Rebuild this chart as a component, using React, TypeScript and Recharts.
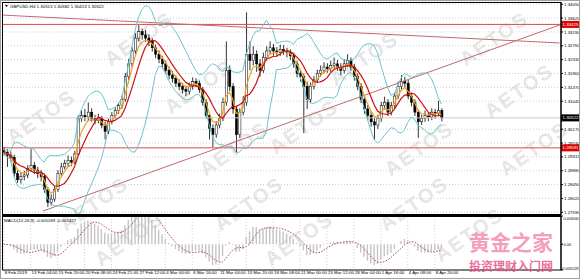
import React from 'react';
import { ComposedChart, Bar, Line, XAxis, YAxis, CartesianGrid, ReferenceLine } from 'recharts';

// GBPUSD H4, each candle here = 2 bars
const timeLabels = [
  '8 Feb 2019', '13 Feb 04:00', '15 Feb 20:00', '20 Feb 08:00', '24 Feb 21:00', '27 Feb 12:00',
  '4 Mar 00:00', '6 Mar 16:00', '11 Mar 04:00', '13 Mar 20:00', '18 Mar 08:00', '21 Mar 00:00',
  '25 Mar 12:00', '28 Mar 04:00', '1 Apr 16:00', '4 Apr 08:00', '8 Apr 20:00',
];
const priceTicks = [
  1.3405, 1.3362, 1.3319, 1.3276, 1.3233, 1.319, 1.3147, 1.3104,
  1.3017, 1.2974, 1.2931, 1.2888, 1.2845, 1.2802, 1.2759,
];
const macdTicks = [0.006063, 0, -0.005529];
const macdTickLabels = ['0.006063', '0.00', '-0.005529'];

const opens = [
  1.2950, 1.2945, 1.2935, 1.2930, 1.2880, 1.2860, 1.2870, 1.2875, 1.2895, 1.2905,
  1.2890, 1.2880, 1.2870, 1.2830, 1.2790, 1.2800, 1.2830, 1.2880, 1.2900, 1.2910,
  1.2920, 1.2915, 1.2940, 1.3050, 1.3060, 1.3055, 1.3070, 1.3050, 1.3045, 1.3050,
  1.3030, 1.3010, 1.3040, 1.3060, 1.3075, 1.3090, 1.3110, 1.3180, 1.3220, 1.3260,
  1.3300, 1.3320, 1.3310, 1.3300, 1.3290, 1.3270, 1.3250, 1.3235, 1.3220, 1.3200,
  1.3185, 1.3175, 1.3160, 1.3150, 1.3140, 1.3135, 1.3150, 1.3165, 1.3160, 1.3140,
  1.3100, 1.3060, 1.3020, 1.3000, 1.3030, 1.3050, 1.3100, 1.3200, 1.3150, 1.3080,
  1.3000, 1.3070, 1.3100, 1.3250, 1.3230, 1.3250, 1.3220, 1.3200, 1.3240, 1.3260,
  1.3270, 1.3260, 1.3255, 1.3265, 1.3260, 1.3255, 1.3245, 1.3220, 1.3190, 1.3180,
  1.3150, 1.3110, 1.3150, 1.3170, 1.3190, 1.3200, 1.3210, 1.3205, 1.3215, 1.3220,
  1.3210, 1.3200, 1.3220, 1.3230, 1.3210, 1.3180, 1.3150, 1.3110, 1.3080, 1.3060,
  1.3040, 1.3030, 1.3050, 1.3090, 1.3100, 1.3070, 1.3090, 1.3120, 1.3150, 1.3165,
  1.3160, 1.3120, 1.3100, 1.3070, 1.3040, 1.3050, 1.3060, 1.3055, 1.3070, 1.3065,
  1.3075,
];
const highs = [
  1.2962, 1.2955, 1.2948, 1.2938, 1.2890, 1.2882, 1.2888, 1.2905, 1.2955, 1.2915,
  1.2900, 1.2890, 1.2878, 1.2838, 1.2815, 1.2840, 1.2890, 1.2912, 1.2922, 1.2935,
  1.2932, 1.2950, 1.3060, 1.3075, 1.3080, 1.3100, 1.3082, 1.3062, 1.3065, 1.3058,
  1.3040, 1.3050, 1.3070, 1.3085, 1.3100, 1.3122, 1.3192, 1.3235, 1.3272, 1.3315,
  1.3340, 1.3330, 1.3325, 1.3312, 1.3300, 1.3280, 1.3262, 1.3245, 1.3230, 1.3212,
  1.3198, 1.3185, 1.3172, 1.3160, 1.3152, 1.3162, 1.3178, 1.3175, 1.3168, 1.3148,
  1.3110, 1.3068, 1.3032, 1.3042, 1.3065, 1.3115, 1.3290, 1.3215, 1.3160, 1.3090,
  1.3082, 1.3120, 1.3380, 1.3290, 1.3275, 1.3262, 1.3235, 1.3255, 1.3275, 1.3290,
  1.3282, 1.3272, 1.3280, 1.3278, 1.3270, 1.3265, 1.3255, 1.3230, 1.3200, 1.3190,
  1.3165, 1.3162, 1.3182, 1.3202, 1.3215, 1.3225, 1.3222, 1.3230, 1.3240, 1.3232,
  1.3222, 1.3235, 1.3250, 1.3240, 1.3220, 1.3190, 1.3160, 1.3120, 1.3092, 1.3072,
  1.3052, 1.3062, 1.3102, 1.3118, 1.3110, 1.3102, 1.3132, 1.3165, 1.3185, 1.3180,
  1.3170, 1.3130, 1.3110, 1.3078, 1.3062, 1.3075, 1.3070, 1.3082, 1.3080, 1.3105,
  1.3082,
];
const lows = [
  1.2935, 1.2900, 1.2915, 1.2870, 1.2850, 1.2848, 1.2858, 1.2865, 1.2885, 1.2878,
  1.2865, 1.2855, 1.2820, 1.2775, 1.2780, 1.2792, 1.2822, 1.2872, 1.2892, 1.2900,
  1.2902, 1.2908, 1.2935, 1.3040, 1.3042, 1.3045, 1.3040, 1.3032, 1.3035, 1.3020,
  1.2985, 1.3002, 1.3032, 1.3050, 1.3065, 1.3080, 1.3102, 1.3170, 1.3210, 1.3250,
  1.3290, 1.3295, 1.3288, 1.3275, 1.3258, 1.3238, 1.3222, 1.3205, 1.3188, 1.3172,
  1.3162, 1.3148, 1.3138, 1.3128, 1.3120, 1.3125, 1.3140, 1.3148, 1.3130, 1.3090,
  1.3050, 1.2985, 1.2960, 1.2990, 1.3020, 1.3042, 1.3090, 1.3135, 1.3065, 1.2945,
  1.2990, 1.3060, 1.3090, 1.3200, 1.3215, 1.3195, 1.3180, 1.3192, 1.3230, 1.3250,
  1.3245, 1.3242, 1.3245, 1.3248, 1.3240, 1.3232, 1.3208, 1.3178, 1.3165, 1.3005,
  1.3080, 1.3100, 1.3140, 1.3160, 1.3180, 1.3190, 1.3192, 1.3195, 1.3205, 1.3198,
  1.3185, 1.3190, 1.3210, 1.3198, 1.3168, 1.3138, 1.3098, 1.3065, 1.3045, 1.3025,
  1.2985, 1.3018, 1.3040, 1.3078, 1.3058, 1.3060, 1.3080, 1.3110, 1.3140, 1.3145,
  1.3110, 1.3088, 1.3058, 1.2990, 1.3030, 1.3040, 1.3042, 1.3045, 1.3050, 1.3058,
  1.3041,
];
const closes = [
  1.2945, 1.2935, 1.2930, 1.2880, 1.2860, 1.2870, 1.2875, 1.2895, 1.2905, 1.2890,
  1.2880, 1.2870, 1.2830, 1.2790, 1.2800, 1.2830, 1.2880, 1.2900, 1.2910, 1.2920,
  1.2915, 1.2940, 1.3050, 1.3060, 1.3055, 1.3070, 1.3050, 1.3045, 1.3050, 1.3030,
  1.3010, 1.3040, 1.3060, 1.3075, 1.3090, 1.3110, 1.3180, 1.3220, 1.3260, 1.3300,
  1.3320, 1.3310, 1.3300, 1.3290, 1.3270, 1.3250, 1.3235, 1.3220, 1.3200, 1.3185,
  1.3175, 1.3160, 1.3150, 1.3140, 1.3135, 1.3150, 1.3165, 1.3160, 1.3140, 1.3100,
  1.3060, 1.3020, 1.3000, 1.3030, 1.3050, 1.3100, 1.3200, 1.3150, 1.3080, 1.3000,
  1.3070, 1.3100, 1.3250, 1.3230, 1.3250, 1.3220, 1.3200, 1.3240, 1.3260, 1.3270,
  1.3260, 1.3255, 1.3265, 1.3260, 1.3255, 1.3245, 1.3220, 1.3190, 1.3180, 1.3150,
  1.3110, 1.3150, 1.3170, 1.3190, 1.3200, 1.3210, 1.3205, 1.3215, 1.3220, 1.3210,
  1.3200, 1.3220, 1.3230, 1.3210, 1.3180, 1.3150, 1.3110, 1.3080, 1.3060, 1.3040,
  1.3030, 1.3050, 1.3090, 1.3100, 1.3070, 1.3090, 1.3120, 1.3150, 1.3165, 1.3160,
  1.3120, 1.3100, 1.3070, 1.3040, 1.3050, 1.3060, 1.3055, 1.3070, 1.3065, 1.3075,
  1.3052,
];

const levelUpper = 1.33425;
const levelLower = 1.29591;
const lastPrice = 1.30522;
const SLOTS = 166;
const xTicks = timeLabels.map((_, k) => k * 8);
const FONT = 'Liberation Sans, Arial, sans-serif';

function sma(arr: number[], i: number, p: number) {
  const s = Math.max(0, i - p + 1);
  let sum = 0;
  for (let k = s; k <= i; k++) sum += arr[k];
  return sum / (i - s + 1);
}
function ema(arr: number[], p: number) {
  const a = 2 / (p + 1);
  const out: number[] = [];
  arr.forEach((v, i) => out.push(i === 0 ? v : a * v + (1 - a) * out[i - 1]));
  return out;
}

const fast = ema(closes, 4);
const ema6 = ema(closes, 6);
const ema13 = ema(closes, 13);
const macdLine = ema6.map((v, i) => v - ema13[i]);

const rows = Array.from({ length: SLOTS }, (_, i) => {
  if (i >= closes.length) return { i };
  const mid = sma(closes, i, 10);
  const s = Math.max(0, i - 9);
  let v = 0;
  for (let k = s; k <= i; k++) v += (closes[k] - mid) ** 2;
  const sd = Math.sqrt(v / (i - s + 1));
  return {
    i,
    range: [lows[i], highs[i]],
    open: opens[i], high: highs[i], low: lows[i], close: closes[i],
    bbUp: mid + 2 * sd,
    bbDn: mid - 2 * sd,
    maFast: fast[i],
    maSlow: sma(closes, i, 7),
    macd: macdLine[i],
    signal: sma(macdLine, i, 5),
  };
});

const Candle = (props: any) => {
  const { x, y, width, height, payload } = props;
  if (!payload || payload.high == null) return null;
  const top = Math.min(y, y + height);
  const h = Math.abs(height);
  const { open, close, high, low } = payload;
  const span = high - low || 1e-9;
  const py = (p: number) => top + ((high - p) / span) * h;
  const cx = x + width / 2;
  const b1 = py(Math.max(open, close));
  const b2 = py(Math.min(open, close));
  const bull = close >= open;
  return (
    <g>
      <line x1={cx} x2={cx} y1={top} y2={top + h} stroke="#000" strokeWidth={0.8} />
      <rect x={x} y={b1} width={width} height={Math.max(b2 - b1, 0.6)} fill={bull ? '#fff' : '#000'} stroke="#000" strokeWidth={0.5} />
    </g>
  );
};

const PriceTick = (props: any) => {
  const { x, y, payload } = props;
  return (
    <text x={x} y={y} dy="0.35em" fontSize={4.4} fontFamily={FONT} fill="#000" textAnchor="start">
      {payload.value.toFixed(5)}
    </text>
  );
};
const MacdTick = (props: any) => {
  const { x, y, index } = props;
  if (index === 2) {
    return (
      <text x={578.5} y={y - 1.5} dy="0.35em" fontSize={3.9} fontFamily={FONT} fill="#000" textAnchor="end">
        {macdTickLabels[index]}
      </text>
    );
  }
  return (
    <text x={x - 0.5} y={y + (index === 0 ? 2.5 : 0)} dy="0.35em" fontSize={4} fontFamily={FONT} fill="#000" textAnchor="start">
      {macdTickLabels[index]}
    </text>
  );
};
const TimeTick = (props: any) => {
  const { x, payload } = props;
  return (
    <text x={x + 1} y={59} fontSize={4.4} fontFamily={FONT} fill="#000" textAnchor="start">
      {timeLabels[payload.value / 8]}
    </text>
  );
};

const flag = (value: number, bg: string) => (p: any) => {
  const vb = p.viewBox || {};
  const fx = vb.x + vb.width;
  return (
    <g>
      <rect x={fx} y={vb.y - 3.5} width={18} height={7} fill={bg} />
      <text x={fx + 1.5} y={vb.y} dy="0.35em" fontSize={4.4} fontFamily={FONT} fill="#fff">
        {value.toFixed(5)}
      </text>
    </g>
  );
};

const watermarks = [
  [42, 118], [140, 40], [200, 88], [95, 205], [130, 240], [250, 205], [300, 240],
  [305, 128], [365, 60], [235, 150], [420, 150], [415, 205], [470, 236],
  [495, 40], [520, 92], [535, 150],
];

export default function App() {
  return (
    <div style={{ position: 'absolute', left: 0, top: 0, width: 580, height: 279, background: '#fff', overflow: 'hidden' }}>
      <svg width={580} height={279} style={{ position: 'absolute', left: 0, top: 0 }}>
        {watermarks.map(([cx, cy], k) => (
          <text key={k} x={cx} y={cy} transform={`rotate(-35 ${cx} ${cy})`} textAnchor="middle" dominantBaseline="middle"
            fontSize={20} fontWeight="bold" fontFamily={FONT} fill="#e6e6e6" letterSpacing={2}>
            AETOS
          </text>
        ))}
      </svg>

      <div style={{ position: 'absolute', left: 0, top: 0 }}>
        <ComposedChart width={580} height={217} data={rows} margin={{ top: 2, right: 0, bottom: 2, left: 2 }}>
          <CartesianGrid stroke="#cfcfcf" strokeDasharray="1 2" />
          <XAxis dataKey="i" type="number" domain={[-0.5, SLOTS - 0.5]} ticks={xTicks} tick={false} tickLine={false} axisLine={false} height={0} />
          <YAxis orientation="right" width={19} domain={[1.27506, 1.34121]} allowDataOverflow ticks={priceTicks}
            tick={<PriceTick />} tickSize={2} tickMargin={1} axisLine={{ stroke: '#000' }} tickLine={{ stroke: '#000' }} interval={0} />
          <ReferenceLine y={levelUpper} stroke="#e04848" strokeWidth={1} label={flag(levelUpper, '#e00000')} />
          <ReferenceLine y={levelLower} stroke="#e04848" strokeWidth={1} label={flag(levelLower, '#e00000')} />
          <ReferenceLine y={lastPrice} stroke="#c8c8c8" strokeWidth={1} label={flag(lastPrice, '#000')} />
          <ReferenceLine segment={[{ x: -0.5, y: 1.33715 }, { x: SLOTS - 0.9, y: 1.32848 }]} stroke="#c06a6a" strokeWidth={1} />
          <ReferenceLine segment={[{ x: 11.7, y: 1.2763 }, { x: SLOTS - 0.9, y: 1.33407 }]} stroke="#c06a6a" strokeWidth={1} />
          <Line dataKey="bbUp" stroke="#6cc4cc" strokeWidth={1} dot={false} isAnimationActive={false} />
          <Line dataKey="bbDn" stroke="#6cc4cc" strokeWidth={1} dot={false} isAnimationActive={false} />
          <Bar dataKey="range" barSize={2.2} shape={<Candle />} isAnimationActive={false} />
          <Line dataKey="maFast" stroke="#f0a020" strokeWidth={1.2} dot={false} isAnimationActive={false} />
          <Line dataKey="maSlow" stroke="#d01010" strokeWidth={1.2} dot={false} isAnimationActive={false} />
        </ComposedChart>
      </div>

      <div style={{ position: 'absolute', left: 0, top: 215 }}>
        <ComposedChart width={580} height={64} data={rows} margin={{ top: 1, right: 0, bottom: 0, left: 2 }}>
          <CartesianGrid stroke="#cfcfcf" strokeDasharray="1 2" horizontal={false} />
          <XAxis dataKey="i" type="number" domain={[-0.5, SLOTS - 0.5]} ticks={xTicks} tick={<TimeTick />} tickLine={false}
            tickSize={0} tickMargin={0} axisLine={false} height={9} interval={0} />
          <YAxis orientation="right" width={19} domain={[-0.005529, 0.006063]} allowDataOverflow ticks={macdTicks}
            tick={<MacdTick />} tickSize={2} tickMargin={1} axisLine={{ stroke: '#000' }} tickLine={{ stroke: '#000' }} interval={0} />
          <Bar dataKey="macd" barSize={1.4} fill="#c4c4c4" isAnimationActive={false} />
          <Line dataKey="signal" stroke="#b04848" strokeWidth={1} strokeDasharray="1.5 1.5" dot={false} isAnimationActive={false} />
        </ComposedChart>
      </div>

      <svg width={580} height={279} style={{ position: 'absolute', left: 0, top: 0, pointerEvents: 'none' }}>
        <rect x={2.5} y={2.5} width={558.5} height={212} fill="none" stroke="#000" strokeWidth={1} />
        <line x1={2} x2={561} y1={215} y2={215} stroke="#000" strokeWidth={2} />
        <rect x={2.5} y={216.5} width={558.5} height={53.5} fill="none" stroke="#000" strokeWidth={1} />
        <rect x={0.5} y={0.5} width={579} height={278} fill="none" stroke="#a0a0a0" strokeWidth={1} />
        <path d="M5 5 L8 5 L6.5 7 Z" fill="#000" />
        <text x={10} y={8} fontSize={4.4} fontFamily={FONT} fill="#000">GBPUSD,H4  1.30513 1.30582 1.30413 1.30522</text>
        <text x={4} y={222} fontSize={4.4} fontFamily={FONT} fill="#000">MACD(12,26,9) -0.001189 -0.001427</text>
        <text x={511} y={250} textAnchor="middle" fontSize={21} fontWeight="bold" fontFamily="Noto Sans CJK SC" fill="#f48cb0" fillOpacity={0.85}>
          黄金之家
        </text>
        <text x={511} y={271} textAnchor="middle" fontSize={12} fontWeight="bold" fontFamily="Noto Sans CJK SC" fill="#e8508a" fillOpacity={0.85}>
          投资理财入门网
        </text>
      </svg>
    </div>
  );
}
